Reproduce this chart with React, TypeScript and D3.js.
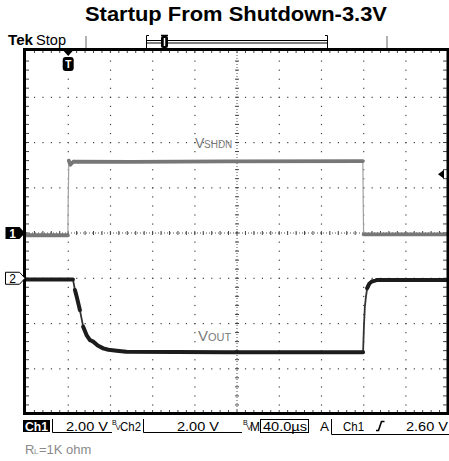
import React from "react";
import * as d3 from "d3";

const W = 449;
const H = 461;

// scope settings
const timeDomain = [-40, 360]; // µs, 40 µs/div, trigger 1 div from the left
const voltsPerDiv = [2, 2];
const channelOffsetDiv = [0, -1];
const triggerLevel = 2.6;
const triggerTime = 0;

// Ch1 = VSHDN (grey), Ch2 = VOUT (black)
const ch1Time = [-40, -0.3, 0, 0.6, 2, 5, 60, 150, 279.3, 279.6, 280, 360];
const ch1Volts = [-0.1, -0.1, 1.5, 3.2, 3.02, 3.15, 3.14, 3.17, 3.18, 1.5, -0.06, -0.06];

const ch2Time = [-40, 4.5, 6.4, 8.5, 11.1, 14.2, 17.4, 20.6, 23.7, 28, 33.2, 38, 45.9, 55, 150, 279.5, 280.3, 281.2, 282.2, 283.4, 285.3, 287.6, 292.3, 360];
const ch2Volts = [-0.05, -0.05, -0.52, -0.9, -1.41, -2.14, -2.51, -2.73, -2.8, -2.97, -3.1, -3.16, -3.2, -3.25, -3.27, -3.27, -2.14, -1.26, -0.82, -0.44, -0.25, -0.15, -0.08, -0.08];

const title = "Startup From Shutdown-3.3V";
const loadNote = ["R", "L", "=1K ohm"];

const plot = { left: 26, right: 448, top: 52, bottom: 414 };

const x = d3.scaleLinear().domain(timeDomain).range([plot.left, plot.right]);
const yDiv = d3.scaleLinear().domain([-4, 4]).range([plot.bottom, plot.top]);
const yCh = (ch: number, v: number) => yDiv(v / voltsPerDiv[ch] + channelOffsetDiv[ch]);

const divW = (plot.right - plot.left) / 10;
const divH = (plot.bottom - plot.top) / 8;

function tracePaths(ch: number, times: number[], volts: number[]) {
  const pts = times.map((t, i) => [x(t), yCh(ch, volts[i])] as [number, number]);
  const thin = d3.line()(pts) || "";
  const thick = d3.path();
  for (let i = 1; i < pts.length; i++) {
    const dx = Math.abs(pts[i][0] - pts[i - 1][0]);
    const dy = Math.abs(pts[i][1] - pts[i - 1][1]);
    if (dy <= dx * 5) {
      thick.moveTo(pts[i - 1][0], pts[i - 1][1]);
      thick.lineTo(pts[i][0], pts[i][1]);
    }
  }
  return { thin, thick: thick.toString() };
}

function Graticule() {
  const dots: React.ReactNode[] = [];
  const cx = x(160);
  const cy = yDiv(0);
  // dotted division lines
  for (let k = 1; k < 8; k++) {
    if (k === 4) continue;
    const yy = plot.top + k * divH;
    for (let j = 0; j <= 50; j++) {
      dots.push(<rect key={`h${k}-${j}`} x={plot.left + j * divW / 5 - 0.5} y={yy - 0.5} width={1.2} height={1.2} fill="#444" />);
    }
  }
  for (let k = 1; k < 10; k++) {
    if (k === 5) continue;
    const xx = plot.left + k * divW;
    for (let j = 0; j <= 40; j++) {
      dots.push(<rect key={`v${k}-${j}`} x={xx - 0.5} y={plot.top + j * divH / 5 - 0.5} width={1.2} height={1.2} fill="#444" />);
    }
  }
  const ticks: React.ReactNode[] = [];
  for (let j = 1; j < 50; j++) {
    const xx = plot.left + j * divW / 5;
    ticks.push(<line key={`ct${j}`} x1={xx} x2={xx} y1={cy - 2} y2={cy + 2} />);
    ticks.push(<line key={`bt${j}`} x1={xx} x2={xx} y1={plot.bottom - 4} y2={plot.bottom} />);
    ticks.push(<line key={`tt${j}`} x1={xx} x2={xx} y1={plot.top - 2} y2={plot.top + 1} />);
  }
  for (let j = 1; j < 40; j++) {
    const yy = plot.top + j * divH / 5;
    ticks.push(<line key={`cv${j}`} x1={cx - 2} x2={cx + 2} y1={yy} y2={yy} />);
    ticks.push(<line key={`rt${j}`} x1={plot.right - 5} x2={plot.right - 1} y1={yy} y2={yy} />);
    ticks.push(<line key={`lt${j}`} x1={plot.left} x2={plot.left + 3} y1={yy} y2={yy} />);
  }
  return (
    <g>
      {dots}
      <line x1={plot.left} x2={plot.right} y1={cy} y2={cy} stroke="#555" strokeWidth={1} strokeDasharray="1,2" />
      <line x1={cx} x2={cx} y1={plot.top} y2={plot.bottom} stroke="#555" strokeWidth={1} strokeDasharray="1,2" />
      <g stroke="#444" strokeWidth={1}>{ticks}</g>
    </g>
  );
}

// the little bandwidth-limit glyph in front of "Ch2" and "M"
function BwIcon({ px }: { px: number }) {
  return (
    <text x={px} y={425} fontSize={7} fill="#000">
      B<tspan dx={-1} dy={5}>V</tspan>
    </text>
  );
}

export default function App() {
  const c1 = tracePaths(0, ch1Time, ch1Volts);
  const c2 = tracePaths(1, ch2Time, ch2Volts);
  const trigX = x(triggerTime);
  const trigY = yCh(0, triggerLevel);
  const m1 = yCh(0, 0);
  const m2 = yCh(1, 0);
  const font = "Liberation Sans, Arial, sans-serif";
  const marker = (yy: number) => `M5.5,${yy - 6}H19.5L25,${yy}L19.5,${yy + 6}H5.5Z`;

  return (
    <svg width={W} height={H} style={{ position: "absolute", left: 0, top: 0, background: "#fff" }} fontFamily={font}>
      <text x={236} y={21} textAnchor="middle" fontSize={20} fontWeight="bold" textLength={302} lengthAdjust="spacingAndGlyphs">{title}</text>

      {/* top bar */}
      <text x={8} y={45} fontSize={14} fontWeight="bold" textLength={25} lengthAdjust="spacingAndGlyphs">Tek</text>
      <text x={36} y={45} fontSize={14} textLength={30} lengthAdjust="spacingAndGlyphs">Stop</text>
      <g stroke="#999" strokeWidth={1.5}>
        <line x1={86} x2={86} y1={36} y2={48} />
        <line x1={387} x2={387} y1={36} y2={48} />
      </g>
      <g stroke="#000" strokeWidth={1} fill="none">
        <rect x={146.5} y={40.5} width={181} height={2.5} />
        <path d="M149,35.5H146.5V48" />
        <path d="M325,35.5H327.5V48" />
      </g>
      <rect x={161} y={36} width={7} height={12} rx={2} fill="#000" />
      <line x1={161} x2={168} y1={35.5} y2={35.5} stroke="#000" strokeWidth={1.5} />
      <line x1={164.5} x2={164.5} y1={38} y2={46} stroke="#fff" strokeWidth={1.5} />

      <Graticule />

      {/* traces */}
      <path d={c1.thin} fill="none" stroke="#a0a0a0" strokeWidth={1.2} />
      <path d={c1.thick} fill="none" stroke="#777" strokeWidth={3.8} strokeLinecap="round" />
      <path d={c2.thin} fill="none" stroke="#333" strokeWidth={1.8} />
      <path d={c2.thick} fill="none" stroke="#1c1c1c" strokeWidth={4} strokeLinecap="round" />

      <g fill="#7a7a7a">
        <text x={195} y={148} fontSize={14}>V</text>
        <text x={204} y={148} fontSize={10}>SHDN</text>
        <text x={198} y={341} fontSize={15}>V</text>
        <text x={208} y={341} fontSize={11}>OUT</text>
      </g>

      {/* screen border */}
      <rect x={24.5} y={49.5} width={423.5} height={364} fill="none" stroke="#000" strokeWidth={3} />

      {/* trigger markers */}
      <path d={`M${trigX - 4.5},51H${trigX + 4.5}L${trigX},56Z`} fill="#000" />
      <rect x={trigX - 5.5} y={57} width={11} height={14} rx={3} fill="#000" />
      <text x={trigX} y={68} fontSize={10} fontWeight="bold" textAnchor="middle" fill="#fff">T</text>
      <path d={`M438,${trigY}L444,${trigY - 4.5}V${trigY + 4.5}Z`} fill="#000" />

      {/* channel ground markers */}
      <path d={marker(m1)} fill="#000" />
      <text x={12.5} y={m1 + 4.5} fontSize={12} fontWeight="bold" textAnchor="middle" fill="#fff">1</text>
      <path d={marker(m2)} fill="#fff" stroke="#000" strokeWidth={1} />
      <text x={12.5} y={m2 + 4.5} fontSize={12} textAnchor="middle" fill="#000">2</text>

      {/* readout line */}
      <rect x={23} y={420} width={27} height={12} fill="#000" />
      <text x={25} y={430.5} fontSize={13} fontWeight="bold" fill="#fff" textLength={23} lengthAdjust="spacingAndGlyphs">Ch1</text>
      <g stroke="#000" strokeWidth={1} fill="none">
        <path d="M52.5,419V432.5H112" />
        <path d="M143.5,419V432.5H242" />
        <rect x={260.5} y={419.5} width={48} height={13} />
        <path d="M331.5,419V434.5H449" />
      </g>
      <g fontSize={13} fill="#000">
        <text x={66} y={430.5} textLength={42} lengthAdjust="spacingAndGlyphs">2.00 V</text>
        <text x={120} y={430.5} textLength={21} lengthAdjust="spacingAndGlyphs">Ch2</text>
        <text x={177} y={430.5} textLength={42} lengthAdjust="spacingAndGlyphs">2.00 V</text>
        <text x={250} y={430.5} textLength={10} lengthAdjust="spacingAndGlyphs">M</text>
        <text x={263} y={430.5} textLength={44} lengthAdjust="spacingAndGlyphs">40.0µs</text>
        <text x={320} y={430.5} textLength={9} lengthAdjust="spacingAndGlyphs">A</text>
        <text x={343} y={430.5} textLength={21} lengthAdjust="spacingAndGlyphs">Ch1</text>
        <text x={406} y={430.5} textLength={42} lengthAdjust="spacingAndGlyphs">2.60 V</text>
      </g>
      <BwIcon px={112} />
      <BwIcon px={243} />
      <path d="M376,430.5H378.5L381.5,421.5H384.5" fill="none" stroke="#000" strokeWidth={1.6} />

      <g fill="#8a8a8a">
        <text x={25} y={454} fontSize={13}>{loadNote[0]}</text>
        <text x={34} y={454} fontSize={8}>{loadNote[1]}</text>
        <text x={39} y={454} fontSize={13}>{loadNote[2]}</text>
      </g>
    </svg>
  );
}
